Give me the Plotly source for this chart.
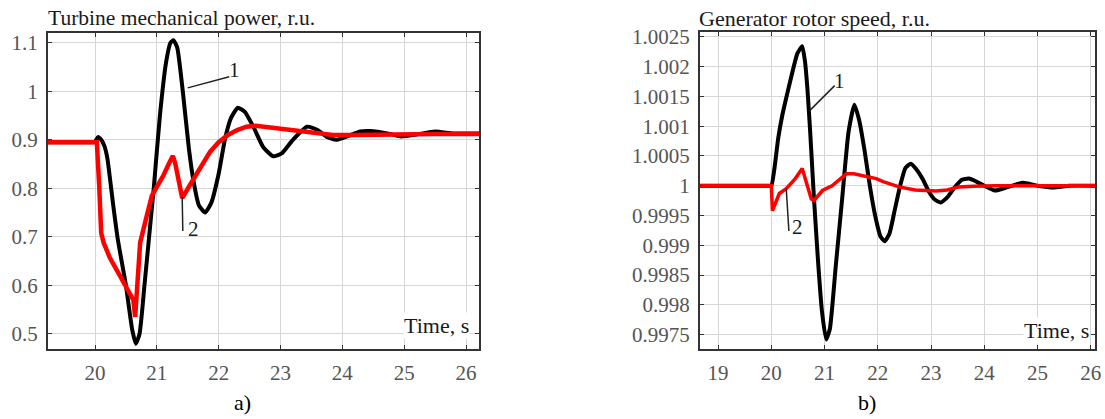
import plotly.graph_objects as go

# ---------- data: panel a) turbine mechanical power ----------
t_a_black = [19.24, 19.95, 20.0, 20.05, 20.1, 20.15, 20.2, 20.29, 20.37, 20.5, 20.6, 20.66, 20.72,
             20.8, 20.89, 20.95, 21.05, 21.15, 21.22, 21.27, 21.33, 21.42, 21.52, 21.6,
             21.68, 21.78, 21.88, 22.0, 22.1, 22.2, 22.31, 22.42, 22.56, 22.72, 22.88, 23.02,
             23.2, 23.43, 23.6, 23.75, 23.9, 24.1, 24.29, 24.45, 24.77, 24.95, 25.2,
             25.5, 25.8, 26.21]
p_a_black = [0.895, 0.895, 0.896, 0.906, 0.9, 0.888, 0.862, 0.77, 0.694, 0.6, 0.51, 0.48, 0.5,
             0.6, 0.72, 0.8, 0.95, 1.06, 1.1, 1.105, 1.09, 1.0, 0.88, 0.81,
             0.765, 0.75, 0.77, 0.83, 0.9, 0.945, 0.966, 0.958, 0.927, 0.885, 0.866, 0.872,
             0.9, 0.927, 0.92, 0.906, 0.9, 0.908, 0.917, 0.918, 0.912, 0.907, 0.911,
             0.917, 0.913, 0.913]

t_a_red = [19.24, 20.03, 20.07, 20.1, 20.14, 20.24, 20.35, 20.5, 20.62, 20.65, 20.69,
           20.73, 20.84, 20.92, 21.0, 21.1, 21.2, 21.26, 21.3, 21.41, 21.55, 21.7,
           21.86, 22.0, 22.15, 22.3, 22.45, 22.6, 22.8, 23.0, 23.3, 23.6, 23.85,
           24.2, 24.6, 25.0, 25.5, 26.21]
p_a_red = [0.895, 0.895, 0.8, 0.708, 0.688, 0.657, 0.632, 0.6, 0.57, 0.535, 0.6,
           0.688, 0.745, 0.785, 0.803, 0.825, 0.852, 0.867, 0.85, 0.78, 0.81, 0.84,
           0.875, 0.895, 0.91, 0.92, 0.927, 0.929, 0.926, 0.922, 0.917, 0.913, 0.91,
           0.91, 0.911, 0.911, 0.912, 0.912]

# ---------- data: panel b) generator rotor speed ----------
t_b_black = [18.66, 19.95, 20.0, 20.06, 20.13, 20.21, 20.3, 20.38, 20.49, 20.58, 20.63, 20.68, 20.73,
             20.8, 20.88, 20.95, 21.03, 21.1, 21.21, 21.33, 21.45, 21.56, 21.65, 21.75,
             21.85, 21.95, 22.05, 22.13, 22.22, 22.32, 22.42, 22.52, 22.62, 22.72, 22.85,
             22.96, 23.08, 23.18, 23.3, 23.45, 23.58, 23.71, 23.85, 24.0, 24.2, 24.45, 24.72,
             25.0, 25.3, 25.6, 26.08]
w_b_black = [1.0, 1.0, 1.0, 1.0003, 1.0008, 1.0012, 1.00155, 1.00185, 1.00222, 1.00234, 1.0021, 1.0016, 1.0009,
             0.9998, 0.9987, 0.9979, 0.99742, 0.9976, 0.99865, 0.99978, 1.0009, 1.00136, 1.0011, 1.0006,
             1.0, 0.9995, 0.99915, 0.99907, 0.9992, 0.9996, 1.0, 1.0003, 1.00037, 1.00028, 1.0001,
             0.9999, 0.99976, 0.99972, 0.9998, 0.99998, 1.0001, 1.00012, 1.00007, 1.0, 0.99992,
             0.99998, 1.00005, 1.0, 0.99997, 1.0, 1.0]

t_b_red = [18.66, 20.0, 20.02, 20.15, 20.28, 20.45, 20.58, 20.75, 20.8, 20.96, 21.14,
           21.24, 21.41, 21.55, 21.71, 21.97, 22.1, 22.4, 22.7, 22.9, 23.1, 23.3,
           23.52, 23.8, 24.2, 26.08]
w_b_red = [1.0, 1.0, 0.99958, 0.99987, 0.99995, 1.00012, 1.00029, 0.99978, 0.99975, 0.99992, 1.0,
           1.00007, 1.0002, 1.0002, 1.00017, 1.00012, 1.00007, 0.99998, 0.99993, 0.99992, 0.99991, 0.99993,
           0.99998, 0.99999, 1.0, 1.0]

# ---------- ticks ----------
a_xticks = [20, 21, 22, 23, 24, 25, 26]
a_yticks = [0.5, 0.6, 0.7, 0.8, 0.9, 1.0, 1.1]
a_ylabels = ["0.5", "0.6", "0.7", "0.8", "0.9", "1", "1.1"]
b_xticks = [19, 20, 21, 22, 23, 24, 25, 26]
b_yticks = [0.9975, 0.998, 0.9985, 0.999, 0.9995, 1.0, 1.0005, 1.001, 1.0015, 1.002, 1.0025]
b_ylabels = ["0.9975", "0.998", "0.9985", "0.999", "0.9995", "1", "1.0005", "1.001",
             "1.0015", "1.002", "1.0025"]

FONT = "Liberation Serif"
W, H = 1105, 419
DARK = "#1a1a1a"

fig = go.Figure()
fig.add_trace(go.Scatter(x=t_a_black, y=p_a_black, mode="lines", xaxis="x", yaxis="y",
                         line=dict(color="black", width=4, shape="spline", smoothing=0.5)))
fig.add_trace(go.Scatter(x=t_a_red, y=p_a_red, mode="lines", xaxis="x", yaxis="y",
                         line=dict(color="#ff0000", width=4.5)))
fig.add_trace(go.Scatter(x=t_b_black, y=w_b_black, mode="lines", xaxis="x2", yaxis="y2",
                         line=dict(color="black", width=4, shape="spline", smoothing=0.5)))
fig.add_trace(go.Scatter(x=t_b_red, y=w_b_red, mode="lines", xaxis="x2", yaxis="y2",
                         line=dict(color="#ff0000", width=3.5)))

axis_common = dict(showline=True, linecolor="#333333", linewidth=2, mirror="ticks",
                   ticks="inside", ticklen=4, tickcolor="#333333", showgrid=True,
                   gridcolor="#d6d6d6", gridwidth=1, zeroline=False, automargin=False,
                   tickfont=dict(family=FONT, size=21, color="#555555"))

fig.update_layout(
    template="none",
    width=W, height=H, margin=dict(l=0, r=0, t=0, b=0, autoexpand=False),
    paper_bgcolor="white", plot_bgcolor="white", showlegend=False,
    xaxis=dict(domain=[48 / W, 479 / W], range=[19.24, 26.21], anchor="y",
               tickvals=a_xticks, ticklabelstandoff=4, **axis_common),
    yaxis=dict(domain=[1 - 349 / H, 1 - 33 / H], range=[0.469, 1.12], anchor="x",
               tickvals=a_yticks, ticktext=a_ylabels, ticklabelstandoff=4, **axis_common),
    xaxis2=dict(domain=[700 / W, 1095 / W], range=[18.66, 26.08], anchor="y2",
                tickvals=b_xticks, ticklabelstandoff=4, **axis_common),
    yaxis2=dict(domain=[1 - 349 / H, 1 - 32 / H], range=[0.99726, 1.00258], anchor="x2",
                tickvals=b_yticks, ticktext=b_ylabels, ticklabelstandoff=4, **axis_common),
)

ann = []
# titles
ann.append(dict(text="Turbine mechanical power, r.u.", xref="paper", yref="paper",
                x=46 / W, y=1 - 18 / H, xanchor="left", yanchor="middle", showarrow=False,
                font=dict(family=FONT, size=21.5, color=DARK)))
ann.append(dict(text="Generator rotor speed, r.u.", xref="paper", yref="paper",
                x=697 / W, y=1 - 18 / H, xanchor="left", yanchor="middle", showarrow=False,
                font=dict(family=FONT, size=22, color=DARK)))
# panel labels
ann.append(dict(text="a)", xref="paper", yref="paper", x=242 / W, y=1 - 402 / H,
                xanchor="center", yanchor="middle",
                showarrow=False, font=dict(family=FONT, size=22, color="black")))
ann.append(dict(text="b)", xref="paper", yref="paper", x=867 / W, y=1 - 402 / H,
                xanchor="center", yanchor="middle",
                showarrow=False, font=dict(family=FONT, size=22, color="black")))
# Time, s
ann.append(dict(text="Time, s", xref="x", yref="y", x=25.52, y=0.5164, showarrow=False,
                xanchor="center", yanchor="middle",
                bgcolor="white", borderpad=0, font=dict(family=FONT, size=22, color=DARK)))
ann.append(dict(text="Time, s", xref="x2", yref="y2", x=25.35, y=0.99757, showarrow=False,
                xanchor="center", yanchor="middle",
                bgcolor="white", borderpad=0, font=dict(family=FONT, size=22, color=DARK)))
# curve labels
lab = dict(family=FONT, size=21, color=DARK)
ann.append(dict(text="1", xref="x", yref="y", x=22.25, y=1.044, showarrow=False, font=lab))
ann.append(dict(text="2", xref="x", yref="y", x=21.6, y=0.716, showarrow=False, font=lab))
ann.append(dict(text="1", xref="x2", yref="y2", x=21.28, y=1.00175, showarrow=False, font=lab))
ann.append(dict(text="2", xref="x2", yref="y2", x=20.5, y=0.9993, showarrow=False, font=lab))
fig.update_layout(annotations=ann)

lines = [
    dict(xref="x", yref="y", x0=21.5, y0=1.007, x1=22.17, y1=1.03),
    dict(xref="x", yref="y", x0=21.41, y0=0.782, x1=21.42, y1=0.712),
    dict(xref="x2", yref="y2", x0=20.72, y0=1.00126, x1=21.19, y1=1.00168),
    dict(xref="x2", yref="y2", x0=20.28, y0=0.99995, x1=20.33, y1=0.99924),
]
for s in lines:
    fig.add_shape(type="line", line=dict(color="#222222", width=1.5), **s)

fig.write_html("out.html", config={"displayModeBar": False},
               post_script="document.body.style.margin='0';document.body.style.overflow='hidden';")
